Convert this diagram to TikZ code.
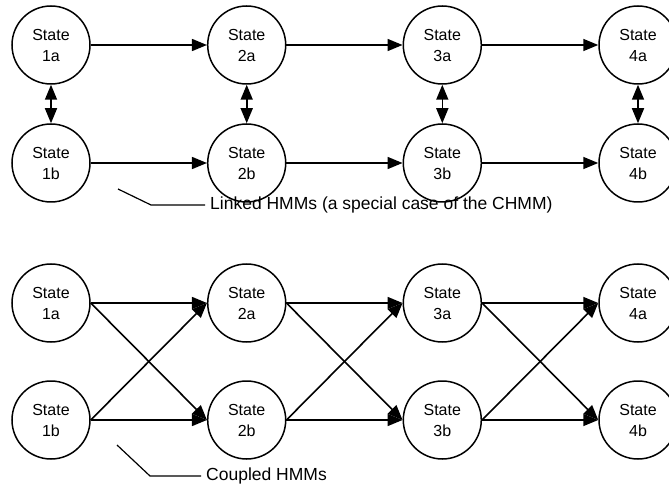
\documentclass[tikz,border=0pt]{standalone}
\usepackage{fontspec}
\setmainfont{Liberation Sans}
\usetikzlibrary{arrows.meta}
\begin{document}
\begin{tikzpicture}[x=1pt,y=-1pt,
  state/.style={circle,draw,line width=1.5pt,minimum size=78pt,inner sep=0pt,
    align=center,font=\fontsize{16}{21}\selectfont},
  tip/.tip={Triangle[length=15pt,width=12pt]},
  flow/.style={line width=1.6pt,-tip},
  link/.style={line width=1.6pt,tip-tip},
  leader/.style={line width=1.2pt},
  caption/.style={anchor=west,inner sep=0pt,font=\fontsize{17.5}{20}\selectfont}]
\useasboundingbox (0,0) rectangle (669,494);

% Linked HMMs
\foreach \i/\x in {1/51,2/246.7,3/442.3,4/638}{
  \node[state] (la\i) at (\x,45) {State\\\i a};
  \node[state] (lb\i) at (\x,163) {State\\\i b};
  \draw[link] (la\i) -- (lb\i);
}
\foreach \i/\j in {1/2,2/3,3/4}{
  \draw[flow] (la\i) -- (la\j);
  \draw[flow] (lb\i) -- (lb\j);
}
\coordinate (lt) at (118,189);
\coordinate (lk) at (151,205);
\coordinate (le) at (205,205);
\node[caption] (lcap) at (210,205) {Linked HMMs (a special case of the CHMM)};
\draw[leader] (lt) -- (lk) -- (le);

% Coupled HMMs
\foreach \i/\x in {1/51,2/246.7,3/442.3,4/638}{
  \node[state] (ca\i) at (\x,303) {State\\\i a};
  \node[state] (cb\i) at (\x,420) {State\\\i b};
}
\foreach \i/\j in {1/2,2/3,3/4}{
  \draw[flow] (ca\i) -- (ca\j);
  \draw[flow] (cb\i) -- (cb\j);
  \draw[flow] (ca\i.east) -- (cb\j.west);
  \draw[flow] (cb\i.east) -- (ca\j.west);
}
\coordinate (ct) at (117,445);
\coordinate (ck) at (150,476);
\coordinate (ce) at (201,476);
\node[caption] (ccap) at (206,476) {Coupled HMMs};
\draw[leader] (ct) -- (ck) -- (ce);
\end{tikzpicture}
\end{document}
